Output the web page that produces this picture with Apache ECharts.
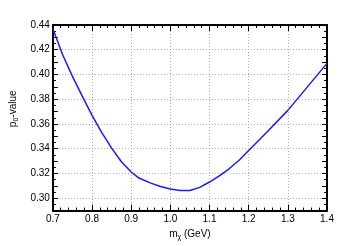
<!DOCTYPE html>
<html>
<head>
<meta charset="utf-8">
<script src="https://cdn.jsdelivr.net/npm/echarts@6/dist/echarts.min.js"></script>
<style>
html,body{margin:0;padding:0;background:#fff;}
#c{width:363px;height:246px;}
</style>
</head>
<body>
<div id="c"></div>
<script>
const mass = [0.70,0.725,0.75,0.775,0.80,0.825,0.85,0.875,0.90,0.92,0.95,0.975,1.00,1.025,1.05,1.075,1.10,1.125,1.15,1.175,1.20,1.25,1.30,1.35,1.40];
const pValue = [0.437,0.416,0.3985,0.3825,0.367,0.353,0.3405,0.3295,0.3212,0.3163,0.3122,0.3095,0.3074,0.3062,0.3062,0.3088,0.3131,0.318,0.3238,0.3305,0.3385,0.3545,0.371,0.390,0.409];
const xTicks = {min:0.7, max:1.4, step:0.1};
const yTicks = {min:0.29, max:0.44, step:0.01};

const font = 'Liberation Sans, Arial, sans-serif';
const chart = echarts.init(document.getElementById('c'), null, {renderer:'canvas'});
const axisLine = {show:true, onZero:false, lineStyle:{color:'#000', width:2}};
const tick = {show:true, inside:true, length:5, lineStyle:{color:'#000', width:1}};
const gridStyle = {color:'#aaa', type:[1,2], width:1};
chart.setOption({
  animation:false,
  grid:{left:51, right:36, top:25, bottom:27, containLabel:false},
  xAxis:[
    {type:'value', min:xTicks.min, max:xTicks.max, interval:xTicks.step,
      axisLine:axisLine, axisTick:Object.assign({}, tick, {length:6}),
      axisLabel:{color:'#000', fontFamily:font, fontSize:10, margin:4, formatter:v=>v.toFixed(1)},
      splitLine:{show:true, lineStyle:gridStyle},
      minorTick:{show:true, splitNumber:5, length:3, lineStyle:{color:'#000'}},
      name:'{m|m}{s|χ}{m| (GeV)}', nameLocation:'middle', nameGap:16,
      nameTextStyle:{rich:{m:{fontFamily:font, fontSize:10, color:'#000'}, s:{fontFamily:font, fontSize:7, color:'#000', padding:[6,0,0,0]}}}
    },
    {type:'value', position:'top', min:xTicks.min, max:xTicks.max, interval:xTicks.step,
      axisLine:axisLine, axisTick:Object.assign({}, tick, {length:6}),
      minorTick:{show:true, splitNumber:5, length:3, lineStyle:{color:'#000'}},
      axisLabel:{show:false}, splitLine:{show:false}}
  ],
  yAxis:[
    {type:'value', min:yTicks.min, max:yTicks.max, interval:yTicks.step,
      axisLine:axisLine, axisTick:tick,
      axisLabel:{color:'#000', fontFamily:font, fontSize:10, margin:3,
        formatter:v=>{const k=Math.round(v*100); return (k%2===0)?v.toFixed(2):'';}},
      splitLine:{show:true, lineStyle:Object.assign({}, gridStyle, {color:['rgba(0,0,0,0)','#aaa']})},
      minorTick:{show:true, splitNumber:2, length:3, lineStyle:{color:'#000'}},
      name:'{m|p}{s|0}{m|-value}', nameLocation:'middle', nameGap:30,
      nameTextStyle:{padding:[0,0,0,18], rich:{m:{fontFamily:font, fontSize:10, color:'#000'}, s:{fontFamily:font, fontSize:7, color:'#000', padding:[6,0,0,0]}}}
    },
    {type:'value', position:'right', min:yTicks.min, max:yTicks.max, interval:yTicks.step,
      axisLine:axisLine, axisTick:tick,
      minorTick:{show:true, splitNumber:2, length:3, lineStyle:{color:'#000'}},
      axisLabel:{show:false}, splitLine:{show:false}}
  ],
  series:[{
    type:'line', xAxisIndex:0, yAxisIndex:0, showSymbol:false, smooth:false,
    lineStyle:{color:'#1a1aff', width:1.5},
    data: mass.map((m,i)=>[m, pValue[i]])
  }]
});
</script>
</body>
</html>
